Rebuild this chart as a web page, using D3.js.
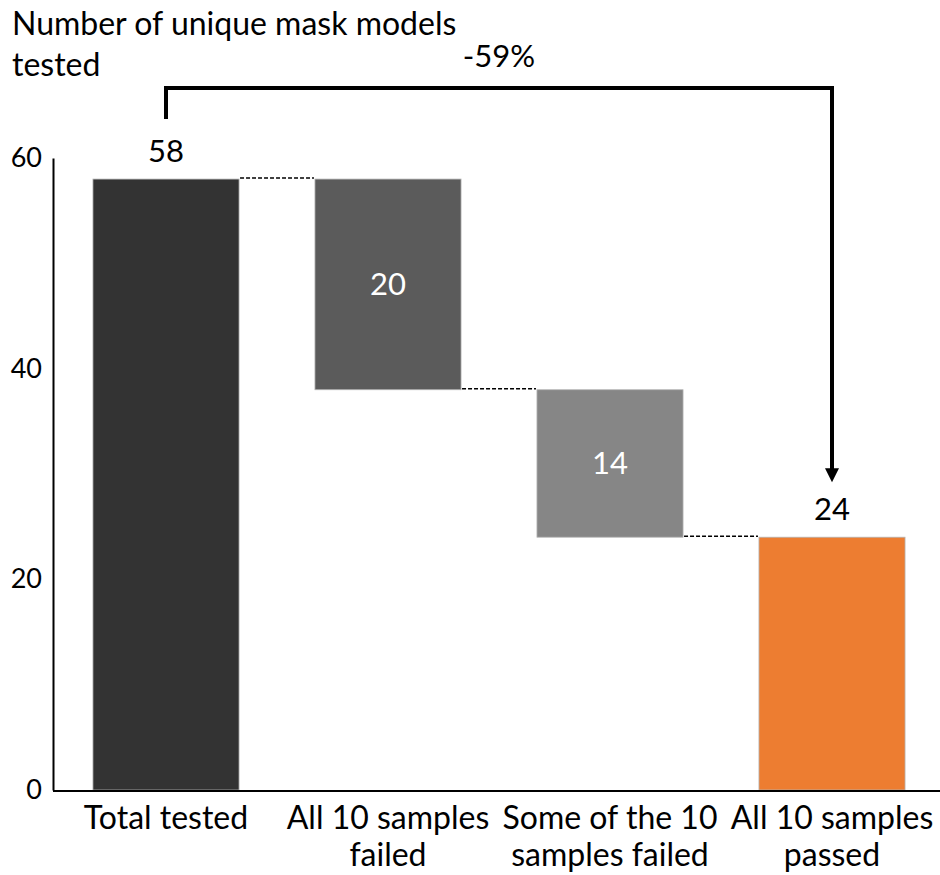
<!DOCTYPE html>
<html>
<head>
<meta charset="utf-8">
<script src="https://cdn.jsdelivr.net/npm/d3@7"></script>
<style>
  body { margin: 0; background: #fff; }
  text { font-family: Lato, "Noto Sans", sans-serif; fill: #000; }
</style>
</head>
<body>
<svg id="chart" width="940" height="875"></svg>
<script>
var categories = ['Total tested', 'All 10 samples failed', 'Some of the 10 samples failed', 'All 10 samples passed'];
var categoryLines = [['Total tested'], ['All 10 samples', 'failed'], ['Some of the 10', 'samples failed'], ['All 10 samples', 'passed']];
var values = [58, -20, -14, 24];
var kinds = ['total', 'step', 'step', 'total'];
var colors = ['#333333', '#5b5b5b', '#868686', '#ed7d31'];
var yTicks = [0, 20, 40, 60];
var changeLabel = '-59%';

var svg = d3.select('#chart');

var x = d3.scaleBand()
  .domain(categories)
  .range([55, 943])
  .paddingInner(0.342)
  .paddingOuter(0.171);

var y = d3.scaleLinear()
  .domain([0, 60])
  .range([790, 158]);

// Work out start/end of each waterfall piece.
var running = 0;
var pieces = categories.map(function (c, i) {
  var lo, hi;
  if (kinds[i] === 'total') {
    lo = 0;
    hi = values[i];
    running = values[i];
  } else {
    hi = running;
    running += values[i];
    lo = running;
  }
  return { cat: c, i: i, lo: lo, hi: hi, v: Math.abs(values[i]), kind: kinds[i] };
});

// y axis
var yAxis = svg.append('g')
  .attr('transform', 'translate(53,0)')
  .call(d3.axisLeft(y).tickValues(yTicks).tickSize(0).tickPadding(11));
yAxis.select('.domain').attr('stroke', '#000').attr('stroke-width', 2);
yAxis.selectAll('text').style('font-size', '27px').attr('fill', '#000');

// bars
svg.append('g').selectAll('rect')
  .data(pieces)
  .join('rect')
  .attr('x', function (d) { return x(d.cat); })
  .attr('y', function (d) { return y(d.hi); })
  .attr('width', x.bandwidth())
  .attr('height', function (d) { return y(d.lo) - y(d.hi); })
  .attr('fill', function (d) { return colors[d.i]; })
  .attr('stroke', '#b5b5b5')
  .attr('stroke-width', 0.8);

// x axis baseline (drawn over bars)
svg.append('line')
  .attr('x1', 53).attr('x2', 940)
  .attr('y1', y(0) + 1).attr('y2', y(0) + 1)
  .attr('stroke', '#000').attr('stroke-width', 2);

// dashed connectors between bars
var links = pieces.slice(0, -1).map(function (d, i) {
  var level = d.kind === 'total' ? d.hi : d.lo;
  return { from: d.cat, to: pieces[i + 1].cat, level: level };
});
svg.append('g').selectAll('line')
  .data(links)
  .join('line')
  .attr('x1', function (d) { return x(d.from) + x.bandwidth() + 1; })
  .attr('x2', function (d) { return x(d.to) - 1; })
  .attr('y1', function (d) { return y(d.level) - 1; })
  .attr('y2', function (d) { return y(d.level) - 1; })
  .attr('stroke', '#000')
  .attr('stroke-width', 1.5)
  .attr('stroke-dasharray', '4,2');

// value labels
svg.append('g').selectAll('text')
  .data(pieces)
  .join('text')
  .attr('x', function (d) { return x(d.cat) + x.bandwidth() / 2; })
  .attr('y', function (d) {
    return d.kind === 'total' ? y(d.hi) - 17 : (y(d.hi) + y(d.lo)) / 2 + 11;
  })
  .attr('text-anchor', 'middle')
  .style('font-size', '31px')
  .style('fill', function (d) { return d.kind === 'total' ? '#000' : '#fff'; })
  .text(function (d) { return d.v; });

// category labels
var cats = svg.append('g').selectAll('text')
  .data(pieces)
  .join('text')
  .attr('x', function (d) { return x(d.cat) + x.bandwidth() / 2; })
  .attr('y', 829)
  .attr('text-anchor', 'middle')
  .style('font-size', '32px');
cats.selectAll('tspan')
  .data(function (d) { return categoryLines[d.i]; })
  .join('tspan')
  .attr('x', function () { return d3.select(this.parentNode).attr('x'); })
  .attr('dy', function (d, i) { return i === 0 ? 0 : 37; })
  .text(function (d) { return d; });

// title
svg.append('text')
  .attr('x', 12).attr('y', 35)
  .style('font-size', '32px')
  .text('Number of unique mask models');
svg.append('text')
  .attr('x', 12).attr('y', 76)
  .style('font-size', '32px')
  .text('tested');

// bracket arrow from first total to last total
var first = pieces[0], last = pieces[pieces.length - 1];
var xa = x(first.cat) + x.bandwidth() / 2;
var xb = x(last.cat) + x.bandwidth() / 2;
var topY = 88;
var tipY = y(last.hi) - 55;
svg.append('path')
  .attr('d', 'M' + xa + ',' + (y(first.hi) - 60) + 'V' + topY + 'H' + xb + 'V' + (tipY - 12))
  .attr('fill', 'none')
  .attr('stroke', '#000')
  .attr('stroke-width', 4);
svg.append('path')
  .attr('d', 'M' + (xb - 7) + ',' + (tipY - 14) + 'L' + (xb + 7) + ',' + (tipY - 14) + 'L' + xb + ',' + tipY + 'Z')
  .attr('fill', '#000');

svg.append('text')
  .attr('x', (xa + xb) / 2)
  .attr('y', 67)
  .attr('text-anchor', 'middle')
  .style('font-size', '31px')
  .text(changeLabel);
</script>
</body>
</html>
